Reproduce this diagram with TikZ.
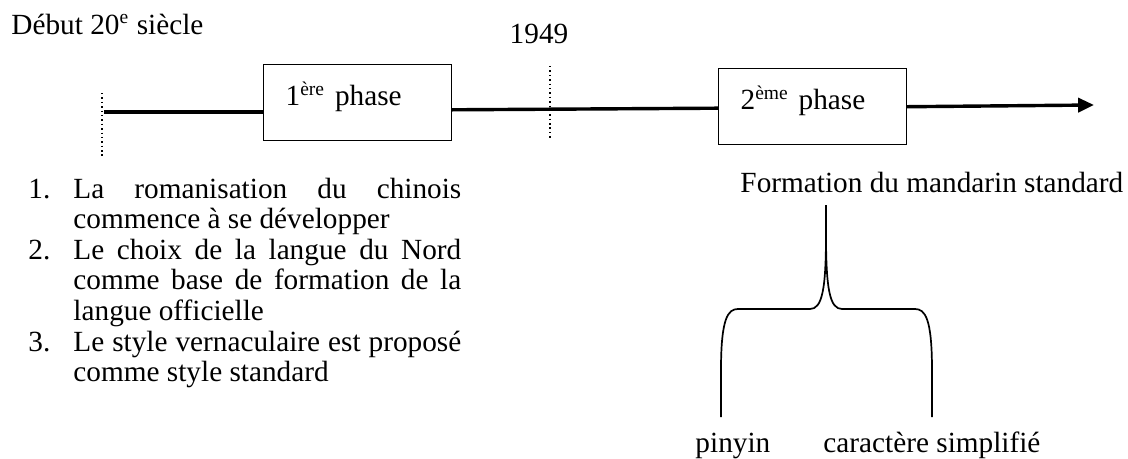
\documentclass[tikz,border=0pt]{standalone}
\usepackage{fontspec}
\setmainfont{Liberation Serif}
\usetikzlibrary{arrows.meta}
\begin{document}
\begin{tikzpicture}[x=0.41pt,y=-0.41pt,
    font=\fontsize{12}{12.55}\selectfont,
    every node/.style={inner sep=0pt},
    textlabel/.style={anchor=base west},
    phasebox/.style={draw,line width=0.55pt,anchor=north west,
      minimum width=77pt,text width=59pt,align=left,
      text height=16.8pt,text depth=14.4pt},
    itembody/.style={anchor=base west,text width=159pt,align=justify},
    timeline/.style={line width=1.4pt},
    tick/.style={line width=0.6pt,dash pattern=on 0.6pt off 1.2pt},
    brace/.style={line width=0.7pt}]
  \useasboundingbox (0,0) rectangle (1128,459);

  % dates
  \node[textlabel] (debut) at (11,34) {Début 20\textsuperscript{e} siècle};
  \node[anchor=base] (year) at (539,43) {1949};

  % phases
  \node[phasebox] (phaseone) at (263,64) {1\textsuperscript{ère} phase};
  \node[phasebox] (phasetwo) at (718,68) {2\textsuperscript{ème} phase};

  \coordinate (start) at (104,112);
  \coordinate (tip) at (1094,105);
  \draw[timeline] (start) -- (start -| phaseone.west);
  \draw[timeline] ([yshift=-2.9pt]phaseone.east) -- ([yshift=-0.6pt]phasetwo.west);
  \draw[timeline,-{Triangle[length=6.5pt,width=5.8pt]}] (phasetwo.east) -- (tip);

  \draw[tick] (102,93) -- (102,158);
  \draw[tick] (550,66) -- (550,139);

  % first phase
  \node[textlabel] (numone) at (28,198) {1.};
  \node[itembody] (itemone) at (73,198)
    {La romanisation du chinois\linebreak commence à se développer};
  \node[textlabel] (numtwo) at (28,259.2) {2.};
  \node[itembody] (itemtwo) at (73,259.2)
    {Le choix de la langue du Nord\linebreak comme base de formation de la\linebreak langue officielle};
  \node[textlabel] (numthree) at (28,351) {3.};
  \node[itembody] (itemthree) at (73,351)
    {Le style vernaculaire est proposé\linebreak comme style standard};

  % second phase
  \node[textlabel] (mandarin) at (740,192) {Formation du mandarin standard};
  \node[textlabel] (pinyin) at (695,452) {pinyin};
  \node[textlabel] (simplified) at (823,452) {caractère simplifié};

  \draw[brace] (721,417) -- (721,370)
    .. controls (721,318) and (728,309) .. (738,309) -- (810,309)
    .. controls (822,309) and (826,290) .. (826,235) -- (826,205);
  \draw[brace] (932,417) -- (932,370)
    .. controls (932,318) and (925,309) .. (915,309) -- (842,309)
    .. controls (830,309) and (826,290) .. (826,235);
\end{tikzpicture}
\end{document}
